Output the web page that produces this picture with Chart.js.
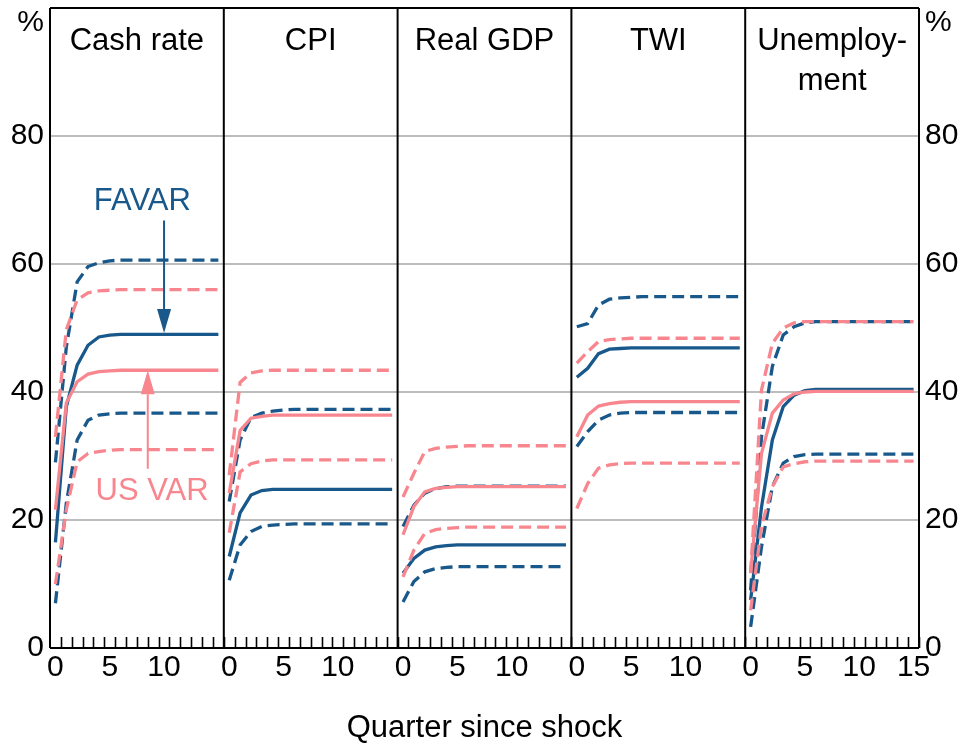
<!DOCTYPE html>
<html>
<head>
<meta charset="utf-8">
<script src="https://cdn.jsdelivr.net/npm/chart.js@4/dist/chart.umd.min.js"></script>
<style>
  html, body { margin: 0; padding: 0; background: #fff; }
</style>
</head>
<body>
<canvas id="grafico" width="961" height="744"></canvas>
<script>
// trimestres depois do choque (eixo x de cada painel)
const quarters = [0, 1, 2, 3, 4, 5, 6, 7, 8, 9, 10, 11, 12, 13, 14, 15];
const paineis = ['Cash rate', 'CPI', 'Real GDP', 'TWI', ['Unemploy-', 'ment']];
const xTickLabels = [0, 5, 10];
const yTickLabels = [0, 20, 40, 60, 80];

// FAVAR: mediana e bandas (uma linha por painel)
const favarHi = [
  [29, 47, 57.2, 59.6, 60.2, 60.5, 60.6, 60.6, 60.6, 60.6, 60.6, 60.6, 60.6, 60.6, 60.6, 60.6],
  [22.9, 32.5, 36, 36.7, 37, 37.2, 37.3, 37.3, 37.3, 37.3, 37.3, 37.3, 37.3, 37.3, 37.3, 37.3],
  [19, 22.3, 24.2, 24.9, 25.2, 25.3, 25.3, 25.3, 25.3, 25.3, 25.3, 25.3, 25.3, 25.3, 25.3, 25.3],
  [50.2, 50.7, 53.6, 54.5, 54.7, 54.8, 54.9, 54.9, 54.9, 54.9, 54.9, 54.9, 54.9, 54.9, 54.9, 54.9],
  [9, 33, 44, 48.9, 50.2, 50.8, 51, 51, 51, 51, 51, 51, 51, 51, 51, 51]
];
const favarMid = [
  [16.5, 37.7, 44.2, 47.3, 48.6, 48.9, 49, 49, 49, 49, 49, 49, 49, 49, 49, 49],
  [14.3, 21.1, 23.9, 24.6, 24.8, 24.8, 24.8, 24.8, 24.8, 24.8, 24.8, 24.8, 24.8, 24.8, 24.8, 24.8],
  [11.7, 14, 15.3, 15.8, 16, 16.1, 16.1, 16.1, 16.1, 16.1, 16.1, 16.1, 16.1, 16.1, 16.1, 16.1],
  [42.3, 43.7, 46, 46.7, 46.8, 46.9, 46.9, 46.9, 46.9, 46.9, 46.9, 46.9, 46.9, 46.9, 46.9, 46.9],
  [7.5, 22, 32.5, 37.7, 39.5, 40.2, 40.4, 40.4, 40.4, 40.4, 40.4, 40.4, 40.4, 40.4, 40.4, 40.4]
];
const favarLo = [
  [7, 22.6, 32.5, 35.6, 36.4, 36.6, 36.7, 36.7, 36.7, 36.7, 36.7, 36.7, 36.7, 36.7, 36.7, 36.7],
  [10.6, 16.1, 18.2, 19, 19.2, 19.3, 19.4, 19.4, 19.4, 19.4, 19.4, 19.4, 19.4, 19.4, 19.4, 19.4],
  [7.2, 10.4, 11.9, 12.4, 12.6, 12.7, 12.7, 12.7, 12.7, 12.7, 12.7, 12.7, 12.7, 12.7, 12.7, 12.7],
  [31.5, 33.8, 35.6, 36.4, 36.7, 36.8, 36.8, 36.8, 36.8, 36.8, 36.8, 36.8, 36.8, 36.8, 36.8, 36.8],
  [3.3, 15.8, 25.2, 28.9, 29.9, 30.2, 30.3, 30.3, 30.3, 30.3, 30.3, 30.3, 30.3, 30.3, 30.3, 30.3]
];

// US VAR: mediana e bandas
const usHi = [
  [33, 49.7, 54.4, 55.5, 55.8, 55.9, 56, 56, 56, 56, 56, 56, 56, 56, 56, 56],
  [27, 41.5, 43, 43.3, 43.4, 43.4, 43.4, 43.4, 43.4, 43.4, 43.4, 43.4, 43.4, 43.4, 43.4, 43.4],
  [23.6, 27.3, 30.7, 31.2, 31.4, 31.5, 31.6, 31.6, 31.6, 31.6, 31.6, 31.6, 31.6, 31.6, 31.6, 31.6],
  [44.5, 46.3, 47.9, 48.2, 48.3, 48.4, 48.4, 48.4, 48.4, 48.4, 48.4, 48.4, 48.4, 48.4, 48.4, 48.4],
  [11.7, 40.3, 47.6, 50, 50.8, 51, 51, 51, 51, 51, 51, 51, 51, 51, 51, 51]
];
const usMid = [
  [21.6, 38.3, 41.6, 42.8, 43.2, 43.3, 43.4, 43.4, 43.4, 43.4, 43.4, 43.4, 43.4, 43.4, 43.4, 43.4],
  [24.2, 34, 35.9, 36.2, 36.4, 36.4, 36.4, 36.4, 36.4, 36.4, 36.4, 36.4, 36.4, 36.4, 36.4, 36.4],
  [17.7, 22.1, 24.4, 24.95, 25.1, 25.2, 25.2, 25.2, 25.2, 25.2, 25.2, 25.2, 25.2, 25.2, 25.2, 25.2],
  [33, 36.4, 37.8, 38.2, 38.4, 38.5, 38.5, 38.5, 38.5, 38.5, 38.5, 38.5, 38.5, 38.5, 38.5, 38.5],
  [11.7, 30.4, 36.7, 38.75, 39.7, 40, 40.1, 40.1, 40.1, 40.1, 40.1, 40.1, 40.1, 40.1, 40.1, 40.1]
];
const usLo = [
  [10, 21.6, 29.1, 30.4, 30.7, 30.9, 31, 31, 31, 31, 31, 31, 31, 31, 31, 31],
  [18, 27.5, 28.8, 29.2, 29.4, 29.4, 29.4, 29.4, 29.4, 29.4, 29.4, 29.4, 29.4, 29.4, 29.4, 29.4],
  [11.1, 15.3, 17.9, 18.5, 18.7, 18.8, 18.9, 18.9, 18.9, 18.9, 18.9, 18.9, 18.9, 18.9, 18.9, 18.9],
  [21.8, 25.7, 28.1, 28.6, 28.8, 28.9, 28.9, 28.9, 28.9, 28.9, 28.9, 28.9, 28.9, 28.9, 28.9, 28.9],
  [5.9, 19, 25.2, 28.3, 28.8, 29.1, 29.2, 29.2, 29.2, 29.2, 29.2, 29.2, 29.2, 29.2, 29.2, 29.2]
];

const AZUL = '#19588a';
const ROSA = '#f8868f';
const FONTE = '"Liberation Sans", Arial, sans-serif';
const LARG = 16; // cada painel ocupa 16 unidades no eixo x (-0.5 a 15.5)
const TRACO = [12, 6];

// rosa por cima do azul: o Chart.js desenha o dataset 0 por último
const series = [
  { dados: usMid, cor: ROSA, tracejado: [] },
  { dados: usHi, cor: ROSA, tracejado: TRACO },
  { dados: usLo, cor: ROSA, tracejado: TRACO },
  { dados: favarMid, cor: AZUL, tracejado: [] },
  { dados: favarHi, cor: AZUL, tracejado: TRACO },
  { dados: favarLo, cor: AZUL, tracejado: TRACO }
];

const datasets = [];
series.forEach(s => {
  for (let p = 0; p < paineis.length; p++) {
    datasets.push({
      data: s.dados[p].map((v, i) => ({ x: p * LARG + quarters[i], y: v })),
      borderColor: s.cor,
      borderDash: s.tracejado,
      borderWidth: 3.3,
      pointRadius: 0,
      fill: false,
      tension: 0
    });
  }
});

// seta vertical com ponta triangular
function seta(ctx, x, yIni, yFim, cor) {
  const dir = yFim > yIni ? 1 : -1;
  const ponta = 24;
  ctx.strokeStyle = cor;
  ctx.fillStyle = cor;
  ctx.lineWidth = 2;
  ctx.beginPath();
  ctx.moveTo(x, yIni);
  ctx.lineTo(x, yFim - dir * ponta);
  ctx.stroke();
  ctx.beginPath();
  ctx.moveTo(x, yFim);
  ctx.lineTo(x - 7, yFim - dir * ponta);
  ctx.lineTo(x + 7, yFim - dir * ponta);
  ctx.closePath();
  ctx.fill();
}

const molduras = {
  id: 'molduras',
  afterDatasetsDraw(chart) {
    const { ctx, chartArea: a, scales: { x, y } } = chart;
    ctx.save();
    ctx.strokeStyle = '#000';
    ctx.lineWidth = 2;
    ctx.beginPath();
    ctx.moveTo(a.left, a.top); ctx.lineTo(a.right, a.top);
    ctx.moveTo(a.left, a.bottom); ctx.lineTo(a.right, a.bottom);
    for (let p = 0; p <= paineis.length; p++) {
      const px = x.getPixelForValue(p * LARG - 0.5);
      ctx.moveTo(px, a.top); ctx.lineTo(px, a.bottom);
    }
    ctx.stroke();

    // tracinhos dos trimestres, virados para dentro
    ctx.lineWidth = 1.6;
    ctx.beginPath();
    for (let p = 0; p < paineis.length; p++) {
      for (let q = 0; q < quarters.length; q++) {
        const px = Math.round(x.getPixelForValue(p * LARG + quarters[q] + 0.5)) + 0.5;
        ctx.moveTo(px, a.bottom);
        ctx.lineTo(px, a.bottom - 11);
      }
    }
    ctx.stroke();

    // títulos dos painéis
    ctx.fillStyle = '#000';
    ctx.font = '31px ' + FONTE;
    ctx.textAlign = 'center';
    ctx.textBaseline = 'middle';
    paineis.forEach((t, p) => {
      const cx = x.getPixelForValue(p * LARG + 7.5);
      const linhas = Array.isArray(t) ? t : [t];
      linhas.forEach((l, k) => ctx.fillText(l, cx, a.top + 33 + k * 40));
    });

    // unidade dos eixos
    ctx.font = '30px ' + FONTE;
    ctx.textAlign = 'right';
    ctx.fillText('%', a.left - 6, a.top + 15);
    ctx.textAlign = 'left';
    ctx.fillText('%', a.right + 6, a.top + 15);

    // rótulos das séries no primeiro painel
    ctx.font = '31px ' + FONTE;
    ctx.textAlign = 'center';
    ctx.fillStyle = AZUL;
    ctx.fillText('FAVAR', x.getPixelForValue(8), y.getPixelForValue(69.7));
    seta(ctx, x.getPixelForValue(10), y.getPixelForValue(66.8), y.getPixelForValue(49.2), AZUL);
    ctx.fillStyle = ROSA;
    ctx.fillText('US VAR', x.getPixelForValue(8.9), y.getPixelForValue(24.4));
    seta(ctx, x.getPixelForValue(8.5), y.getPixelForValue(28), y.getPixelForValue(43.4), ROSA);
    ctx.restore();
  }
};

// sem folga extra para rótulos nas pontas dos eixos
function semFolga(s) {
  s.paddingTop = 0;
  s.paddingBottom = 0;
  s.paddingLeft = 0;
  s.paddingRight = 0;
}

const eixoY = (pos, largura) => ({
  position: pos,
  min: 0,
  max: 100,
  afterBuildTicks: s => { s.ticks = yTickLabels.map(v => ({ value: v })); },
  afterFit: s => { s.width = largura; semFolga(s); },
  grid: {
    display: pos === 'left',
    drawTicks: false,
    color: c => (c.tick.value === 0 ? 'rgba(0,0,0,0)' : '#bdbdbd'),
    lineWidth: 2
  },
  border: { display: false },
  ticks: {
    padding: 6,
    color: '#000',
    font: { family: FONTE, size: 30 }
  }
});

new Chart(document.getElementById('grafico').getContext('2d'), {
  type: 'line',
  data: { datasets },
  options: {
    responsive: false,
    animation: false,
    layout: { padding: { top: 8, left: 0, right: 0, bottom: 0 } },
    plugins: { legend: { display: false }, tooltip: { enabled: false } },
    scales: {
      x: {
        type: 'linear',
        min: -0.5,
        max: paineis.length * LARG - 0.5,
        afterBuildTicks: s => {
          const t = [];
          for (let p = 0; p < paineis.length; p++) {
            xTickLabels.forEach(v => t.push({ value: p * LARG + v }));
          }
          t.push({ value: (paineis.length - 1) * LARG + 15 });
          s.ticks = t;
        },
        afterFit: s => { s.height = 96; semFolga(s); },
        grid: { display: false },
        border: { display: false },
        ticks: {
          autoSkip: false,
          maxRotation: 0,
          padding: -6,
          color: '#000',
          font: { family: FONTE, size: 30 },
          callback: v => v % LARG
        },
        title: {
          display: true,
          text: 'Quarter since shock',
          color: '#000',
          font: { family: FONTE, size: 31 },
          padding: { top: 0, bottom: -3 }
        }
      },
      y: eixoY('left', 50),
      y2: eixoY('right', 42)
    }
  },
  plugins: [molduras]
});
</script>
</body>
</html>
